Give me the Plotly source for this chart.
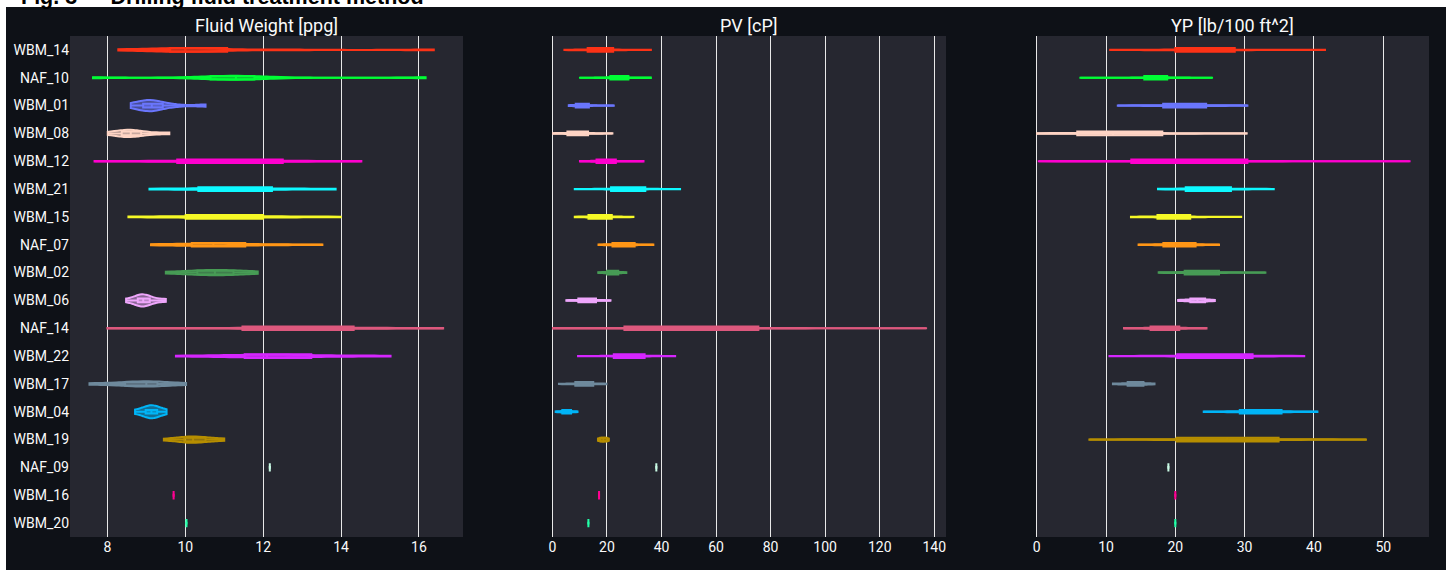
import plotly.graph_objects as go

categories = ["WBM_14", "NAF_10", "WBM_01", "WBM_08", "WBM_12", "WBM_21", "WBM_15", "NAF_07",
              "WBM_02", "WBM_06", "NAF_14", "WBM_22", "WBM_17", "WBM_04", "WBM_19", "NAF_09",
              "WBM_16", "WBM_20"]

colors = ["#FD3216", "#00FE35", "#6A76FC", "#FED4C4", "#FE00CE", "#0DF9FF", "#F6F926", "#FF9616",
          "#479B55", "#EEA6FB", "#DC587D", "#D626FF", "#6E899C", "#00B5F7", "#B68E00", "#C9FBE5",
          "#FF0092", "#22FFA7"]

fluid_weight = {
    "WBM_14": [8.28, 9.35, 9.7, 9.9, 10.0, 10.3, 10.6, 12.5, 16.38],
    "NAF_10": [7.63, 10.2, 10.8, 11.1, 11.3, 11.45, 11.6, 12.3, 16.17],
    "WBM_01": [8.6, 8.85, 8.94, 9.08, 9.14, 9.2, 9.33, 9.7, 10.52],
    "WBM_08": [8.01, 8.3, 8.39, 8.5, 8.6, 8.68, 8.79, 9.1, 9.59],
    "WBM_12": [7.67, 9.2, 9.99, 10.5, 11.0, 11.6, 12.27, 13.2, 14.52],
    "WBM_21": [9.08, 9.9, 10.48, 10.9, 11.2, 11.6, 12.0, 12.9, 13.86],
    "WBM_15": [8.54, 9.5, 10.18, 10.7, 11.06, 11.4, 11.73, 12.8, 13.99],
    "NAF_07": [9.12, 9.8, 10.29, 10.5, 10.72, 11.0, 11.32, 12.2, 13.52],
    "WBM_02": [9.5, 10.1, 10.38, 10.6, 10.76, 10.95, 11.15, 11.5, 11.86],
    "WBM_06": [8.48, 8.72, 8.8, 8.86, 8.92, 8.97, 9.05, 9.2, 9.5],
    "NAF_14": [8.0, 10.5, 11.79, 12.6, 13.1, 13.6, 14.03, 15.2, 16.62],
    "WBM_22": [9.76, 11.0, 11.7, 11.9, 12.1, 12.5, 12.98, 14.0, 15.27],
    "WBM_17": [7.54, 8.2, 8.54, 8.8, 9.0, 9.1, 9.18, 9.6, 10.02],
    "WBM_04": [8.71, 8.9, 9.01, 9.08, 9.13, 9.18, 9.25, 9.36, 9.52],
    "WBM_19": [9.45, 9.85, 10.02, 10.12, 10.2, 10.3, 10.46, 10.7, 11.0],
    "NAF_09": [12.17],
    "WBM_16": [9.7],
    "WBM_20": [10.03],
}

pv = {
    "WBM_14": [4.4, 10, 13.9, 15.5, 17, 18.8, 20.7, 27, 36.1],
    "NAF_10": [10.1, 19, 22.0, 23, 24, 25.3, 26.8, 31, 36.1],
    "WBM_01": [6.0, 7.8, 8.8, 9.6, 10.5, 11.4, 12.5, 16, 22.5],
    "WBM_08": [0, 4, 6.0, 7.5, 9, 10.5, 12.1, 16, 22],
    "WBM_12": [10.1, 14, 16.9, 18, 19, 20.5, 22.0, 27, 33.4],
    "WBM_21": [8.2, 17, 23.0, 25, 27, 29.5, 32.4, 39, 46.8],
    "WBM_15": [8.2, 11.5, 13.8, 15.5, 17, 18.8, 20.7, 25, 29.7],
    "NAF_07": [16.9, 20, 22.7, 24, 25, 27, 29.2, 33, 37.0],
    "WBM_02": [16.8, 19, 20.4, 21.2, 22, 22.8, 23.7, 25.5, 27.1],
    "WBM_06": [5.1, 8, 10.0, 11.2, 12.5, 13.8, 15.3, 18, 21.3],
    "NAF_14": [0, 18, 29.2, 36, 42.4, 55, 69.0, 95, 137.0],
    "WBM_22": [9.4, 18, 24.0, 26, 28, 30, 32.4, 38, 45.0],
    "WBM_17": [2.4, 6, 9.2, 10.3, 11.5, 12.8, 14.3, 17, 19.8],
    "WBM_04": [1.2, 2.8, 3.9, 4.5, 5.0, 5.7, 6.5, 7.8, 9.2],
    "WBM_19": [16.7, 17.3, 17.7, 18.2, 18.7, 19.2, 19.8, 20.2, 20.7],
    "NAF_09": [38.1],
    "WBM_16": [17.1],
    "WBM_20": [13.2],
}

yp = {
    "WBM_14": [10.6, 17, 21.0, 22.3, 23.5, 25.2, 27.1, 33, 41.6],
    "NAF_10": [6.3, 12, 16.7, 17.0, 17.3, 17.7, 18.1, 21, 25.3],
    "WBM_01": [11.7, 16, 19.0, 20, 21, 22.3, 23.6, 27, 30.4],
    "WBM_08": [0, 3, 6.8, 9, 11, 13.8, 16.5, 23, 30.3],
    "WBM_12": [0.3, 9, 15.2, 18, 21, 24, 27.2, 40, 53.8],
    "WBM_21": [17.5, 20, 22.0, 23.2, 24.5, 25.8, 27.2, 30.5, 34.2],
    "WBM_15": [13.6, 16, 17.9, 18.7, 19.5, 20.3, 21.2, 25, 29.5],
    "NAF_07": [14.7, 17, 18.7, 19.6, 20.5, 21.4, 22.4, 24.5, 26.3],
    "WBM_02": [17.6, 20, 21.8, 22.6, 23.5, 24.4, 25.4, 29, 33.0],
    "WBM_06": [20.4, 21.5, 22.4, 22.8, 23.2, 23.6, 24.1, 24.9, 25.7],
    "NAF_14": [12.6, 15, 16.9, 17.7, 18.5, 19.3, 20.1, 22, 24.5],
    "WBM_22": [10.5, 16, 21.7, 24, 26, 28, 30.2, 34, 38.6],
    "WBM_17": [11.0, 12.3, 13.4, 13.9, 14.3, 14.7, 15.2, 16, 17.0],
    "WBM_04": [24.1, 27.5, 29.9, 31, 32, 33.3, 34.6, 37.5, 40.5],
    "WBM_19": [7.6, 15, 21.9, 25, 27.5, 30.3, 33.2, 40, 47.5],
    "NAF_09": [19.0],
    "WBM_16": [20.0],
    "WBM_20": [20.0],
}

# style: drawn violin thickness (category units) per panel, same order as categories
violin_widths = [
    [0.14, 0.14, 0.40, 0.26, 0.04, 0.06, 0.06, 0.09, 0.19, 0.44, 0.04, 0.10, 0.19, 0.47, 0.23, 0.1, 0.1, 0.1],
    [0.04, 0.04, 0.05, 0.04, 0.04, 0.03, 0.04, 0.04, 0.06, 0.04, 0.02, 0.03, 0.04, 0.06, 0.13, 0.1, 0.1, 0.1],
    [0.03, 0.04, 0.04, 0.03, 0.02, 0.04, 0.04, 0.04, 0.04, 0.09, 0.04, 0.03, 0.07, 0.04, 0.03, 0.1, 0.1, 0.1],
]
BOX_WIDTH = 0.13
SINGLE_BOX_WIDTH = 0.3

panel_titles = ["Fluid Weight [ppg]", "PV [cP]", "YP [lb/100 ft^2]"]
panel_data = [fluid_weight, pv, yp]
x_ranges = [[7.04, 17.13], [-0.15, 144.3], [-0.1, 56.6]]
x_dticks = [2, 20, 10]
caption = "Fig. 3 \u2014 Drilling fluid treatment method"

PAPER = "#0e1117"
PLOTBG = "#262730"
FONT = "Roboto"
W, H = 1452, 571
ML, MR, MT, MB = 70, 23, 36, 34
PW = W - ML - MR
PH = H - MT - MB

def px_x(p):
    return (p - ML) / PW

def px_y(p):
    return (H - MB - p) / PH

def rgba(hex_color, a):
    h = hex_color.lstrip("#")
    r, g, b = int(h[0:2], 16), int(h[2:4], 16), int(h[4:6], 16)
    return f"rgba({r},{g},{b},{a})"

domains = [[px_x(70), px_x(463)], [px_x(552), px_x(946)], [px_x(1036), px_x(1429)]]

fig = go.Figure()
for i, data in enumerate(panel_data):
    xa = "x" if i == 0 else f"x{i+1}"
    ya = "y" if i == 0 else f"y{i+1}"
    for k, (name, col) in enumerate(zip(categories, colors)):
        vals = data[name]
        fig.add_trace(go.Violin(
            x=vals, y=[name] * len(vals), name=name, orientation="h",
            line=dict(color=col, width=2), fillcolor=rgba(col, 0.5),
            scalemode="width", spanmode="hard", points=False,
            width=violin_widths[i][k], box=dict(visible=False),
            showlegend=False, xaxis=xa, yaxis=ya, hoverinfo="skip",
        ))
        fig.add_trace(go.Box(
            x=vals, y=[name] * len(vals), name=name, orientation="h",
            line=dict(color=col, width=2), fillcolor=rgba(col, 0.5),
            boxpoints=False, whiskerwidth=0,
            width=SINGLE_BOX_WIDTH if len(vals) == 1 else BOX_WIDTH,
            showlegend=False, xaxis=xa, yaxis=ya,
        ))

layout = dict(
    width=W, height=H,
    margin=dict(l=ML, r=MR, t=MT, b=MB, pad=0),
    paper_bgcolor=PAPER, plot_bgcolor=PLOTBG,
    font=dict(family=FONT, color="#fafafa", size=14),
    violinmode="overlay", boxmode="overlay",
    showlegend=False,
)
for i in range(3):
    sx = "" if i == 0 else str(i + 1)
    layout["xaxis" + sx] = dict(
        domain=domains[i], anchor="y" + sx, range=x_ranges[i], dtick=x_dticks[i],
        showgrid=True, gridcolor="#e8e8e8", gridwidth=1,
        zeroline=True, zerolinecolor="#e8e8e8", zerolinewidth=1,
        showline=False, ticks="", tickfont=dict(size=14, color="#fafafa"),
    )
    layout["yaxis" + sx] = dict(
        domain=[0, 1], anchor="x" + sx, type="category",
        categoryorder="array", categoryarray=categories,
        range=[len(categories) - 0.5, -0.5],
        showgrid=False, zeroline=False, showline=False, ticks="",
        showticklabels=(i == 0), tickfont=dict(size=14, color="#fafafa"),
    )
    if i > 0:
        layout["yaxis" + sx]["matches"] = "y"

annotations = []
for i, t in enumerate(panel_titles):
    annotations.append(dict(
        text=t, xref="paper", yref="paper",
        x=(domains[i][0] + domains[i][1]) / 2, y=px_y(25),
        xanchor="center", yanchor="middle", showarrow=False,
        font=dict(size=18, color="#fafafa", family=FONT),
    ))
annotations.append(dict(
    text="<b>" + caption + "</b>", xref="paper", yref="paper",
    x=px_x(19), y=px_y(11.5), xanchor="left", yanchor="bottom", showarrow=False,
    font=dict(size=21.5, color="#000000", family="Liberation Sans"),
))
layout["annotations"] = annotations

# white page strips around the dark figure panel
white = dict(type="rect", xref="paper", yref="paper", fillcolor="#ffffff",
             line=dict(width=0), layer="above")
layout["shapes"] = [
    dict(white, x0=px_x(-10), x1=px_x(W + 10), y0=px_y(7), y1=px_y(-10)),
    dict(white, x0=px_x(-10), x1=px_x(6), y0=px_y(H + 10), y1=px_y(-10)),
    dict(white, x0=px_x(1446), x1=px_x(W + 10), y0=px_y(H + 10), y1=px_y(-10)),
    dict(white, x0=px_x(-10), x1=px_x(W + 10), y0=px_y(H + 10), y1=px_y(570)),
]

fig.update_layout(**layout)
fig.write_html("out.html")
